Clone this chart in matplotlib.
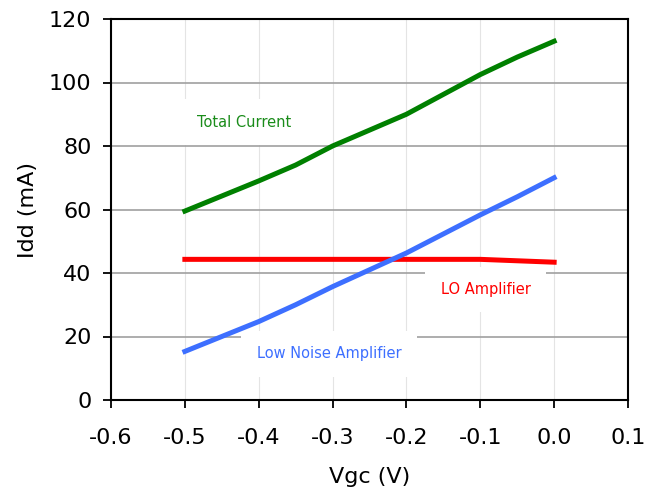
import matplotlib
matplotlib.use('Agg')
import matplotlib.pyplot as plt

# values
vgc_total = [-0.5, -0.4, -0.35, -0.3, -0.2, -0.1, -0.05, 0.0]
idd_total = [59.5, 69.0, 74.0, 80.0, 90.0, 102.5, 108.0, 113.0]

vgc_lna = [-0.5, -0.4, -0.35, -0.3, -0.2, -0.1, -0.05, 0.0]
idd_lna = [15.3, 24.7, 30.0, 35.7, 46.3, 58.3, 64.0, 70.0]

vgc_lo = [-0.5, -0.4, -0.3, -0.2, -0.1, 0.0]
idd_lo = [44.3, 44.3, 44.3, 44.3, 44.3, 43.4]

x_ticks = [-0.6, -0.5, -0.4, -0.3, -0.2, -0.1, 0.0, 0.1]
y_ticks = [0, 20, 40, 60, 80, 100, 120]

plt.rcParams['font.family'] = ['DejaVu Sans']

fig = plt.figure(figsize=(6.55, 4.92), dpi=100)
ax = fig.add_axes([111/655, 92/492, 517/655, 381/492])

ax.plot(vgc_total, idd_total, color='#008000', linewidth=3.6, zorder=3)
ax.plot(vgc_lo, idd_lo, color='#ff0000', linewidth=3.6, zorder=3)
ax.plot(vgc_lna, idd_lna, color='#3d6fff', linewidth=3.6, zorder=3)

ax.set_xlim(-0.6, 0.1)
ax.set_ylim(0, 120)
ax.set_xticks(x_ticks)
ax.set_xticklabels(['%.1f' % v for v in x_ticks])
ax.set_yticks(y_ticks)

ax.grid(axis='y', color='#a0a0a0', linewidth=1.2, zorder=1)
ax.grid(axis='x', color='#e4e4e4', linewidth=0.8, zorder=1)

ax.tick_params(direction='out', length=6, width=1.3, labelsize=16)
ax.tick_params(axis='x', pad=14)
ax.tick_params(axis='y', pad=8)
for s in ax.spines.values():
    s.set_linewidth(1.5)

ax.set_xlabel('Vgc (V)', fontsize=16, labelpad=14)
ax.set_ylabel('Idd (mA)', fontsize=16, labelpad=8)

box = dict(facecolor='white', edgecolor='none', pad=11)
ax.text(-0.42, 87.5, 'Total Current', color='#1a8c1a', fontsize=10.5,
        ha='center', va='center', bbox=box, zorder=2)
ax.text(-0.093, 34.8, 'LO Amplifier', color='#ff0000', fontsize=10.5,
        ha='center', va='center', bbox=box, zorder=2)
ax.text(-0.305, 14.5, 'Low Noise Amplifier', color='#3d6fff', fontsize=10.5,
        ha='center', va='center', bbox=box, zorder=2)

fig.savefig('out.png', dpi=100)
